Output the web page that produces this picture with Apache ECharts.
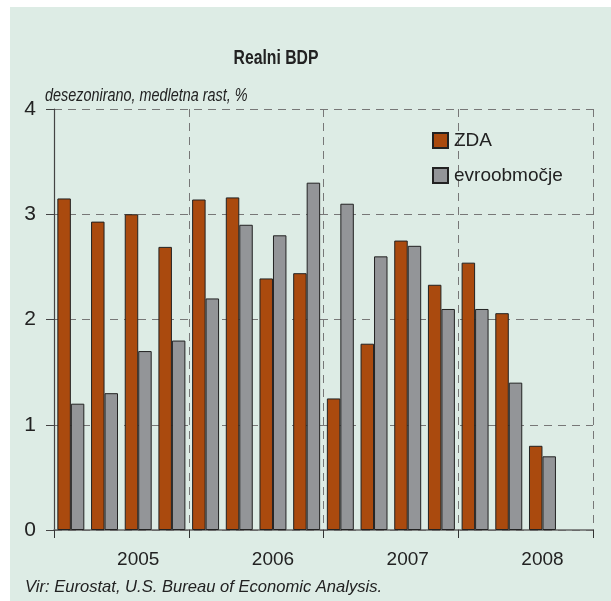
<!DOCTYPE html>
<html>
<head>
<meta charset="utf-8">
<script src="https://cdn.jsdelivr.net/npm/echarts@6/dist/echarts.min.js"></script>
<style>
html,body{margin:0;padding:0;background:#fff;}
#c{width:611px;height:601px;}
</style>
</head>
<body>
<div id="c"></div>
<script>
const quarters = ['2005 Q1','2005 Q2','2005 Q3','2005 Q4','2006 Q1','2006 Q2','2006 Q3','2006 Q4','2007 Q1','2007 Q2','2007 Q3','2007 Q4','2008 Q1','2008 Q2','2008 Q3','2008 Q4'];
const years = ['2005','2006','2007','2008'];
const zda = [3.15, 2.93, 3.00, 2.69, 3.14, 3.16, 2.39, 2.44, 1.25, 1.77, 2.75, 2.33, 2.54, 2.06, 0.80, null];
const evro = [1.20, 1.30, 1.70, 1.80, 2.20, 2.90, 2.80, 3.30, 3.10, 2.60, 2.70, 2.10, 2.10, 1.40, 0.70, null];
const yTicks = [0, 1, 2, 3, 4];

const FONT = '"Liberation Sans", Arial, sans-serif';
const chart = echarts.init(document.getElementById('c'), null, {renderer: 'canvas'});
chart.setOption({
  animation: false,
  backgroundColor: 'transparent',
  graphic: [
    {type: 'rect', z: -10, silent: true, shape: {x: 10, y: 7, width: 601, height: 594}, style: {fill: '#DDECE5'}},
    {type: 'text', x: 276, y: 58, scaleX: 0.75, style: {text: 'Realni BDP', font: 'bold 21px ' + FONT, fill: '#222', align: 'center', verticalAlign: 'middle'}},
    {type: 'text', x: 45, y: 96, scaleX: 0.8, style: {text: 'desezonirano, medletna rast, %', font: 'italic 18px ' + FONT, fill: '#222', align: 'left', verticalAlign: 'middle'}},
    {type: 'text', x: 25, y: 587, scaleX: 0.975, style: {text: 'Vir: Eurostat, U.S. Bureau of Economic Analysis.', font: 'italic 17px ' + FONT, fill: '#222', align: 'left', verticalAlign: 'middle'}}
  ],
  legend: {
    orient: 'vertical',
    left: 432, top: 131, padding: 0,
    itemWidth: 15, itemHeight: 15, itemGap: 16,
    icon: 'rect',
    textStyle: {fontFamily: FONT, fontSize: 19, color: '#222', padding: [0, 0, 0, 1]},
    data: ['ZDA', 'evroobmočje']
  },
  grid: {left: 54, right: 18, top: 109, bottom: 71, containLabel: false},
  xAxis: [
    {
      type: 'category', data: quarters, boundaryGap: true,
      axisLine: {show: true, lineStyle: {color: '#666', width: 1.5}},
      axisTick: {show: false},
      splitLine: {show: false},
      axisLabel: {
        interval: 0, margin: 20,
        fontFamily: FONT, fontSize: 19, color: '#222',
        formatter: (v, i) => (i % 4 === 2 ? v.slice(0, 4) : '')
      }
    },
    {
      type: 'category', data: years, boundaryGap: true, position: 'bottom',
      axisLine: {show: false},
      axisTick: {show: true, length: 8, inside: false, lineStyle: {color: '#333'}},
      axisLabel: {show: false},
      splitLine: {show: true, lineStyle: {color: '#777', type: [8, 6], width: 1}}
    }
  ],
  yAxis: {
    type: 'value', min: 0, max: 4, interval: 1,
    axisLine: {show: true, lineStyle: {color: '#444', width: 1.2}},
    axisTick: {show: true, length: 8, lineStyle: {color: '#444'}},
    axisLabel: {
      margin: 18, fontFamily: FONT, fontSize: 21, color: '#222',
      formatter: v => (yTicks.indexOf(v) >= 0 ? String(v) : '')
    },
    splitLine: {show: true, lineStyle: {color: '#777', type: [8, 6], width: 1}}
  },
  series: [
    {
      name: 'ZDA', type: 'bar', xAxisIndex: 0, data: zda,
      barGap: '0%', barCategoryGap: '20%',
      itemStyle: {color: '#AA4A0E', borderColor: '#222', borderWidth: 1}
    },
    {
      name: 'evroobmočje', type: 'bar', xAxisIndex: 0, data: evro,
      barGap: '0%', barCategoryGap: '20%',
      itemStyle: {color: '#939598', borderColor: '#222', borderWidth: 1}
    }
  ]
});
</script>
</body>
</html>
